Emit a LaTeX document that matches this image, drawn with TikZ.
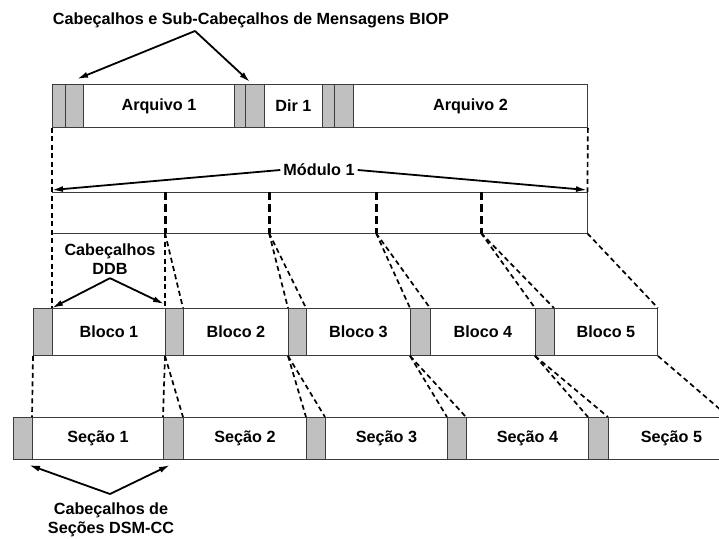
\documentclass[tikz,border=0pt]{standalone}
\usepackage{fontspec}
\setmainfont{Liberation Sans}
\usepackage{xcolor}
\usepackage{tikz}
\usetikzlibrary{positioning,calc,arrows.meta}
\definecolor{hdrgray}{RGB}{192,192,192}
\definecolor{edgegray}{RGB}{60,60,60}

\begin{document}
\begin{tikzpicture}[
  x=1pt, y=-1pt,
  font=\bfseries\fontsize{16.2}{19.5}\selectfont,
  cell/.style={rectangle, draw=edgegray, line width=0.9pt, fill=white, anchor=north west, inner sep=0pt},
  hdr/.style={cell, fill=hdrgray},
  toprow/.style={minimum height=43pt},
  blkrow/.style={minimum height=47pt},
  secrow/.style={minimum height=42pt},
  cut/.style={line width=1.7pt, dash pattern=on 5pt off 3.5pt},
  split/.style={line width=3pt, dash pattern=on 8pt off 4pt},
  pointer/.style={-{Latex[length=11pt,width=6pt]}, line width=1.8pt}
]
\useasboundingbox (0,0) rectangle (719,538);

% Top: BIOP messages
\node[hdr, toprow, minimum width=13pt] (ta) at (52,84) {};
\node[hdr, toprow, minimum width=18pt] (tb) at (65,84) {};
\node[cell, toprow, minimum width=151pt] (arq1) at (83,84) {Arquivo 1};
\node[hdr, toprow, minimum width=11pt] (tc) at (234,84) {};
\node[hdr, toprow, minimum width=19pt] (td) at (245,84) {};
\node[cell, toprow, minimum width=58pt] (dir1) at (264,84) {Dir 1};
\node[hdr, toprow, minimum width=12pt] (te) at (322,84) {};
\node[hdr, toprow, minimum width=19pt] (tf) at (334,84) {};
\node[cell, toprow, minimum width=234pt] (arq2) at (353,84) {Arquivo 2};

\node (biop) at (251,20) {Cabeçalhos e Sub-Cabeçalhos de Mensagens BIOP};
\coordinate (biopfork) at (195,31);
\coordinate (biopA) at (77,79);
\coordinate (biopB) at (250,82);
\draw[pointer] (biopfork) -- (biopA);
\draw[pointer] (biopfork) -- (biopB);

% Middle: module split into blocks
\node[minimum width=535pt, minimum height=41pt, anchor=north west, inner sep=0pt] (mod) at (52,192) {};
\draw[draw=edgegray, line width=0.9pt] (mod.north west) -- (mod.north east) -- (mod.south east) -- (mod.south west);
\foreach \x/\n in {165/1,269/2,376/3,481/4} {
  \coordinate (m\n) at (\x,233);
  \draw[split] (\x,192) -- (m\n);
}

\node[fill=white, inner sep=3pt] (modlbl) at (319,170) {Módulo 1};
\coordinate (modA) at (52,190);
\coordinate (modB) at (587,190);
\draw[pointer] (modlbl.west) -- (modA);
\draw[pointer] (modlbl.east) -- (modB);

% Blocks
\node[hdr, blkrow, minimum width=19pt] (g1) at (33,308) {};
\node[cell, blkrow, minimum width=113pt] (b1) at (52,308) {Bloco 1};
\node[hdr, blkrow, minimum width=18pt] (g2) at (165,308) {};
\node[cell, blkrow, minimum width=105pt] (b2) at (183,308) {Bloco 2};
\node[hdr, blkrow, minimum width=18pt] (g3) at (288,308) {};
\node[cell, blkrow, minimum width=104pt] (b3) at (306,308) {Bloco 3};
\node[hdr, blkrow, minimum width=20pt] (g4) at (410,308) {};
\node[cell, blkrow, minimum width=105pt] (b4) at (430,308) {Bloco 4};
\node[hdr, blkrow, minimum width=19pt] (g5) at (535,308) {};
\node[cell, blkrow, minimum width=103pt] (b5) at (554,308) {Bloco 5};

\node[align=center] (ddb) at (110,259) {Cabeçalhos\\DDB};
\coordinate (ddbB) at (164,304);
\draw[pointer] (ddb.south) -- (b1.north west);
\draw[pointer] (ddb.south) -- (ddbB);

% Bottom: DSM-CC sections
\node[hdr, secrow, minimum width=19pt] (h1) at (13,417) {};
\node[cell, secrow, minimum width=131pt] (s1) at (32,417) {Seção 1};
\node[hdr, secrow, minimum width=20pt] (h2) at (163,417) {};
\node[cell, secrow, minimum width=123pt] (s2) at (183,417) {Seção 2};
\node[hdr, secrow, minimum width=19pt] (h3) at (306,417) {};
\node[cell, secrow, minimum width=122pt] (s3) at (325,417) {Seção 3};
\node[hdr, secrow, minimum width=19pt] (h4) at (447,417) {};
\node[cell, secrow, minimum width=122pt] (s4) at (466,417) {Seção 4};
\node[hdr, secrow, minimum width=20pt] (h5) at (588,417) {};
\node[cell, secrow, minimum width=126pt] (s5) at (608,417) {Seção 5};
\coordinate (secend) at (729,417);

\node[align=center] (seclbl) at (111,520) {Cabeçalhos de\\Seções DSM-CC};
\coordinate (secfork) at (110,494);
\coordinate (secA) at (29,465);
\coordinate (secB) at (170,465);
\draw[pointer] (secfork) -- (secA);
\draw[pointer] (secfork) -- (secB);

% Dashed mapping lines
\draw[cut] (ta.south west) -- (b1.north west);
\draw[cut] (arq2.south east) -- (mod.north east);
\draw[cut] (m1) -- (g2.north west);
\draw[cut] (m1) -- (b2.north west);
\draw[cut] (m2) -- (g3.north west);
\draw[cut] (m2) -- (b3.north west);
\draw[cut] (m3) -- (g4.north west);
\draw[cut] (m3) -- (b4.north west);
\draw[cut] (m4) -- (g5.north west);
\draw[cut] (m4) -- (b5.north west);
\draw[cut] (mod.south east) -- (b5.north east);

\draw[cut] (g1.south west) -- (s1.north west);
\draw[cut] (g2.south west) -- (h2.north west);
\draw[cut] (g2.south west) -- (s2.north west);
\draw[cut] (g3.south west) -- (h3.north west);
\draw[cut] (g3.south west) -- (s3.north west);
\draw[cut] (g4.south west) -- (h4.north west);
\draw[cut] (g4.south west) -- (s4.north west);
\draw[cut] (g5.south west) -- (h5.north west);
\draw[cut] (g5.south west) -- (s5.north west);
\draw[cut] (b5.south east) -- (secend);
\end{tikzpicture}
\end{document}
